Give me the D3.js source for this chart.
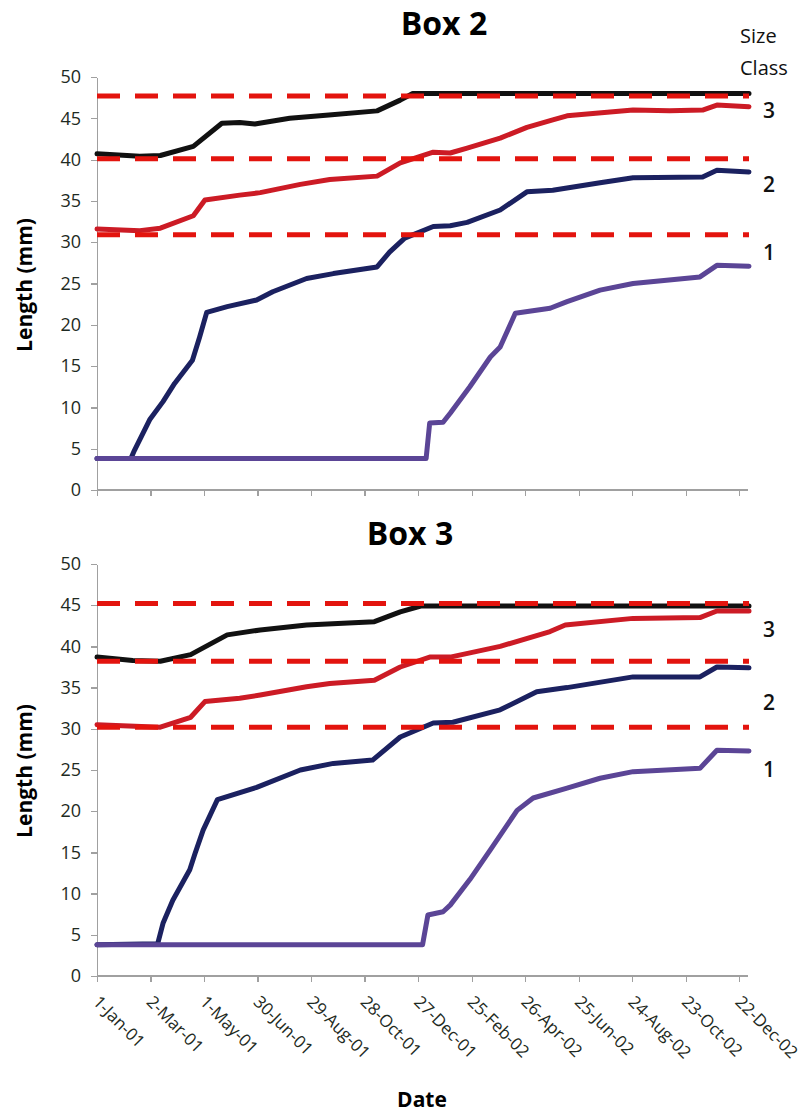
<!DOCTYPE html>
<html>
<meta charset="utf-8">
<title>Box 2 / Box 3</title>
<style>
  body { margin: 0; background: #fff; }
  text { font-family: "Open Sans", "DejaVu Sans", sans-serif; }
  .axis path, .axis line { stroke: #a0a0a0; stroke-width: 1.2px; shape-rendering: crispEdges; }
  .axis text { font-size: 18px; fill: #1e2a22; }
  .title { font-size: 32px; font-weight: 700; fill: #000; }
  .ylab, .xlab { font-size: 21px; font-weight: 700; fill: #000; }
  .cls { font-size: 21px; font-weight: 600; fill: #111; }
  .sizecls { font-size: 20px; fill: #111; }
  .series { fill: none; stroke-width: 5px; stroke-linejoin: round; stroke-linecap: round; }
  .dash { stroke: #e3140e; stroke-width: 5px; stroke-dasharray: 23,15; }
</style>
<body>
<div id="chart"></div>
<script src="https://d3js.org/d3.v7.min.js"></script>
<script>
// x values are days since 1-Jan-01
var dayTicks = [0, 60, 120, 180, 240, 300, 360, 420, 480, 540, 600, 660, 720];
var tickLabels = ["1-Jan-01", "2-Mar-01", "1-May-01", "30-Jun-01", "29-Aug-01", "28-Oct-01",
  "27-Dec-01", "25-Feb-02", "26-Apr-02", "25-Jun-02", "24-Aug-02", "23-Oct-02", "22-Dec-02"];
var yTicks = [0, 5, 10, 15, 20, 25, 30, 35, 40, 45, 50];
var sizeClasses = ["1", "2", "3"];

// Box 2
var box2Black = [[0,40.7],[48,40.4],[71,40.5],[108,41.6],[140,44.4],[160,44.5],[177,44.3],[216,45.0],[260,45.4],[314,45.9],[340,47.2],[354,48],[731,48]];
var box2Red = [[0,31.6],[48,31.4],[71,31.7],[108,33.2],[121,35.1],[160,35.7],[183,36],[228,37],[261,37.6],[314,38],[340,39.6],[377,40.9],[396,40.8],[415,41.4],[452,42.6],[482,43.9],[511,44.8],[527,45.3],[601,46],[642,45.9],[679,46],[695,46.6],[731,46.4]];
var box2Navy = [[0,3.8],[38,3.8],[42,4.8],[59,8.5],[74,10.7],[87,12.9],[107,15.7],[115,18.5],[123,21.5],[146,22.2],[179,23],[197,24],[235,25.6],[265,26.2],[314,27],[328,28.8],[345,30.5],[377,31.9],[396,32],[415,32.4],[452,33.9],[482,36.1],[511,36.3],[564,37.2],[601,37.8],[679,37.9],[695,38.7],[731,38.5]];
var box2Purple = [[0,3.8],[369,3.8],[373,8.1],[388,8.2],[396,9.3],[418,12.5],[441,16.1],[452,17.3],[469,21.4],[508,22],[527,22.8],[564,24.2],[601,25],[676,25.8],[695,27.2],[731,27.1]];
var box2Cuts = [30.9, 40.1, 47.7];

// Box 3
var box3Black = [[0,38.7],[40,38.3],[71,38.2],[105,39],[146,41.4],[183,42],[235,42.6],[311,43],[340,44.2],[363,44.9],[731,44.9]];
var box3Red = [[0,30.5],[71,30.2],[105,31.4],[121,33.3],[160,33.7],[183,34.1],[235,35.1],[261,35.5],[311,35.9],[340,37.5],[373,38.7],[396,38.7],[452,40],[508,41.8],[525,42.6],[601,43.4],[676,43.5],[695,44.3],[731,44.3]];
var box3Navy = [[0,3.8],[68,3.9],[74,6.4],[85,9.2],[104,12.9],[110,14.9],[119,17.7],[135,21.4],[179,22.9],[228,25],[265,25.8],[309,26.2],[340,29],[377,30.7],[399,30.8],[452,32.3],[493,34.5],[527,35],[601,36.3],[676,36.3],[695,37.5],[731,37.4]];
var box3Purple = [[0,3.8],[365,3.8],[371,7.4],[388,7.8],[396,8.6],[418,11.7],[441,15.3],[471,20.1],[489,21.6],[527,22.8],[564,24],[601,24.8],[676,25.2],[695,27.4],[731,27.3]];
var box3Cuts = [30.2, 38.2, 45.2];

var colors = { black: "#111111", red: "#cc1b25", navy: "#1b2160", purple: "#5b4596" };

var width = 809, height = 1113;
var svg = d3.select("#chart").append("svg")
    .attr("width", width)
    .attr("height", height);

var x = d3.scaleLinear().domain([0, 731]).range([97, 749]);

var panels = [
  { title: "Box 2", titleX: 444, titleY: 35, top: 77, bottom: 490, ylabY: 285,
    lines: [[box2Black, colors.black], [box2Red, colors.red], [box2Navy, colors.navy], [box2Purple, colors.purple]],
    cuts: box2Cuts, clsY: [260, 192, 118], labels: false },
  { title: "Box 3", titleX: 410, titleY: 545, top: 564, bottom: 976, ylabY: 771,
    lines: [[box3Black, colors.black], [box3Red, colors.red], [box3Navy, colors.navy], [box3Purple, colors.purple]],
    cuts: box3Cuts, clsY: [777, 710, 637], labels: true }
];

panels.forEach(function(p) {
  var y = d3.scaleLinear().domain([0, 50]).range([p.bottom, p.top]);
  var g = svg.append("g");

  g.append("text").attr("class", "title")
    .attr("x", p.titleX).attr("y", p.titleY)
    .attr("text-anchor", "middle").text(p.title);

  g.append("g").attr("class", "axis")
    .attr("transform", "translate(" + x(0) + ",0)")
    .call(d3.axisLeft(y).tickValues(yTicks).tickSize(6).tickSizeOuter(0).tickPadding(10));

  var xa = g.append("g").attr("class", "axis")
    .attr("transform", "translate(0," + p.bottom + ")")
    .call(d3.axisBottom(x).tickValues(dayTicks).tickSize(6).tickSizeOuter(0).tickFormat(""));
  xa.select(".domain").attr("d", "M" + x(0) + ",0H" + x(730));

  if (p.labels) {
    g.selectAll(".xt").data(dayTicks).enter().append("text")
      .attr("class", "xt")
      .attr("transform", function(d) { return "translate(" + (x(d) - 5) + "," + (p.bottom + 27) + ") rotate(45)"; })
      .style("font-size", "17px").style("fill", "#1e2a22")
      .text(function(d, i) { return tickLabels[i]; });
  }

  g.append("text").attr("class", "ylab")
    .attr("transform", "translate(32," + p.ylabY + ") rotate(-90)")
    .attr("text-anchor", "middle").text("Length (mm)");

  var line = d3.line()
    .x(function(d) { return x(d[0]); })
    .y(function(d) { return y(d[1]); });

  g.selectAll(".series").data(p.lines).enter().append("path")
    .attr("class", "series")
    .attr("d", function(d) { return line(d[0]); })
    .style("stroke", function(d) { return d[1]; });

  g.selectAll(".dash").data(p.cuts).enter().append("line")
    .attr("class", "dash")
    .attr("x1", x(0)).attr("x2", x(731))
    .attr("y1", function(d) { return y(d); })
    .attr("y2", function(d) { return y(d); });

  g.selectAll(".cls").data(sizeClasses).enter().append("text")
    .attr("class", "cls")
    .attr("x", 763)
    .attr("y", function(d, i) { return p.clsY[i]; })
    .text(function(d) { return d; });
});

svg.append("text").attr("class", "sizecls").attr("x", 740).attr("y", 43).text("Size");
svg.append("text").attr("class", "sizecls").attr("x", 740).attr("y", 75).text("Class");

svg.append("text").attr("class", "xlab")
  .attr("x", 422).attr("y", 1107)
  .attr("text-anchor", "middle").text("Date");
</script>
</body>
</html>
